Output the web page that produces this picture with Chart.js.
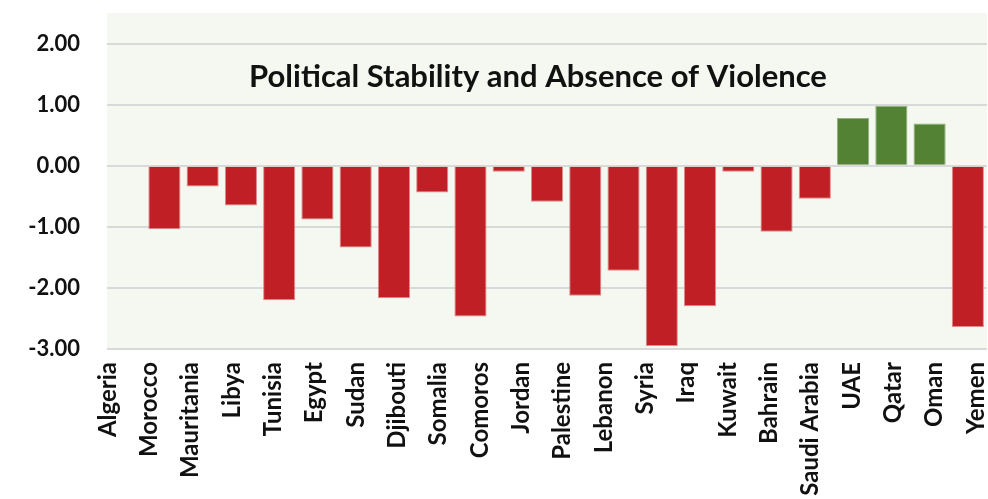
<!DOCTYPE html>
<html>
<head>
<meta charset="utf-8">
<script src="https://cdn.jsdelivr.net/npm/chart.js@4.4.1/dist/chart.umd.min.js"></script>
<style>
  html, body { margin: 0; padding: 0; background: #ffffff; }
  #wrap { width: 988px; height: 499px; }
</style>
</head>
<body>
<div id="wrap"><canvas id="chart" width="988" height="499"></canvas></div>
<script>
// Data
const countries = ["Algeria","Morocco","Mauritania","Libya","Tunisia","Egypt","Sudan","Djibouti",
  "Somalia","Comoros","Jordan","Palestine","Lebanon","Syria","Iraq","Kuwait","Bahrain",
  "Saudi Arabia","UAE","Qatar","Oman","Yemen"];
const scores = [-1.04,-0.34,-0.65,-2.20,-0.88,-1.34,-2.17,-0.44,-2.47,-0.10,-0.59,-2.13,
  -1.72,-2.95,-2.30,-0.10,-1.08,-0.54,0.78,0.98,0.69,-2.64];
const yTicks = [2, 1, 0, -1, -2, -3];
const chartTitle = "Political Stability and Absence of Violence";

const RED = "#c01f26";
const GREEN = "#548235";
const FONT = "Lato, 'Open Sans', sans-serif";

// plot background + title drawn inside the plot
const plotBg = {
  id: "plotBg",
  beforeDraw(chart){
    const {ctx, chartArea: a} = chart;
    ctx.save();
    ctx.fillStyle = "#f4f8f0";
    ctx.fillRect(a.left, a.top, a.right - a.left, a.bottom - a.top);
    ctx.restore();
  },
  afterDatasetsDraw(chart){
    const {ctx, chartArea: a} = chart;
    ctx.save();
    ctx.font = "bold 31px " + FONT;
    ctx.fillStyle = "#111111";
    ctx.textAlign = "center";
    ctx.textBaseline = "alphabetic";
    ctx.fillText(chartTitle, a.left + 431, a.top + 74);
    ctx.restore();
  }
};

function noPad(s){
  s.paddingLeft = 0; s.paddingRight = 0; s.paddingTop = 0; s.paddingBottom = 0;
}

new Chart(document.getElementById("chart"), {
  type: "bar",
  data: {
    datasets: [{
      xAxisID: "x",
      yAxisID: "y",
      data: scores.map((v, i) => ({x: i, y: v})),
      backgroundColor: scores.map(v => v >= 0 ? GREEN : RED),
      borderColor: scores.map(v => v >= 0 ? "#8fb07a" : "#e08a8c"),
      borderWidth: 1,
      barPercentage: 0.84,
      categoryPercentage: 1.0
    }]
  },
  options: {
    responsive: false,
    animation: false,
    layout: { padding: { top: 13, right: 1, left: 0, bottom: 0 } },
    plugins: { legend: { display: false }, tooltip: { enabled: false } },
    scales: {
      x: {
        type: "linear",
        position: "bottom",
        min: -1.5, max: 21.5,
        offset: false,
        grid: { display: false },
        border: { display: false },
        ticks: { display: false },
        afterFit: s => { s.height = 0; noPad(s); }
      },
      xl: {
        type: "linear",
        position: "bottom",
        min: -0.0242, max: 21.266,
        offset: false,
        grid: { display: false, drawTicks: false },
        border: { display: false },
        afterBuildTicks: s => { s.ticks = countries.map((_, i) => ({value: i})); },
        afterFit: s => { s.height = 150; noPad(s); },
        ticks: {
          autoSkip: false,
          minRotation: 90, maxRotation: 90,
          padding: 13,
          color: "#111111",
          font: { family: FONT, size: 24, weight: "bold" },
          callback: v => countries[v]
        }
      },
      y: {
        min: -3, max: 2.5,
        afterBuildTicks: s => { s.ticks = yTicks.map(v => ({value: v})); },
        afterFit: s => { s.width = 107; noPad(s); },
        grid: { color: "#d9d9d9", lineWidth: 2, drawTicks: false },
        border: { display: false },
        ticks: {
          padding: 27,
          color: "#111111",
          font: { family: FONT, size: 22, weight: "bold" },
          callback: v => v.toFixed(2)
        }
      }
    }
  },
  plugins: [plotBg]
});
</script>
</body>
</html>
